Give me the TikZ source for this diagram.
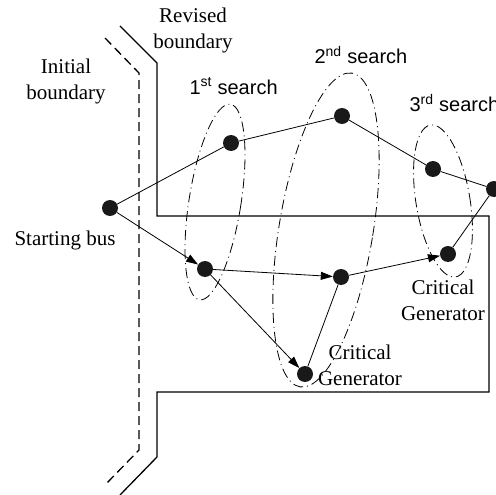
\documentclass[tikz,border=0pt]{standalone}
\usepackage{fontspec}
\setmainfont{Liberation Serif}
\setsansfont{Liberation Sans}
\usetikzlibrary{arrows.meta}

\tikzset{
  bus/.style={circle, fill=black!90, inner sep=0pt, minimum size=16pt},
  link/.style={line width=0.8pt},
  flow/.style={link, -{Triangle[length=12pt,width=8pt]}},
  searcharea/.style={line width=0.8pt, dash pattern=on 10pt off 4pt on 1pt off 4pt},
  lbl/.style={font=\fontsize{21}{26}\selectfont, align=center},
  tag/.style={font=\sffamily\fontsize{20}{24}\selectfont, anchor=west},
}

\begin{document}
\begin{tikzpicture}[x=1pt,y=-1pt]
    \useasboundingbox (0,0) rectangle (496,495);
    \draw[line width=1.3pt, dash pattern=on 9pt off 5pt] (105,38) -- (139,73) -- (139,450) -- (105,485); % initial boundary
    \draw[line width=1.3pt] (120,26) -- (157,63) -- (157,216) -- (489,216) -- (489,392) -- (157,392) -- (157,457) -- (120,495); % revised boundary

    % search areas
    \draw[searcharea, rotate around={-9:(215,202)}] (215,202) ellipse [x radius=26, y radius=99];
    \draw[searcharea, rotate around={-9.4:(326,230)}] (326,230) ellipse [x radius=47, y radius=159];
    \draw[searcharea, rotate around={9.4:(443,201)}] (443,201) ellipse [x radius=27, y radius=77];

    % buses
    \node[bus] (bus) at (110,208) {};
    \node[bus] (up1) at (231,143) {};
    \node[bus] (up2) at (342,116) {};
    \node[bus] (up3) at (433,169) {};
    \node[bus] (up4) at (494,189) {};
    \node[bus] (low1) at (205,269) {};
    \node[bus] (mid2) at (341,277) {};
    \node[bus] (gen1) at (305,374) {};
    \node[bus] (gen2) at (448,254) {};

    % paths
    \draw[link] (bus) -- (up1) -- (up2) -- (up3) -- (up4);
    \draw[link] (gen2) -- (up4);
    \draw[link] (mid2) -- (gen1);
    \draw[flow] (bus) -- (low1);
    \draw[flow] (low1) -- (mid2);
    \draw[flow] (low1) -- (gen1);
    \draw[flow] (mid2) -- (gen2);

    % labels
    \node[lbl] (revised) at (193,30) {Revised\\boundary};
    \node[lbl] (initial) at (66,81) {Initial\\boundary};
    \node[lbl] (start) at (65,240) {Starting bus};
    \node[lbl] (crit1) at (360,365) {Critical\\Generator};
    \node[lbl] (crit2) at (443,300) {Critical\\Generator};
    \node[tag] (first) at (186,86) {1\textsuperscript{st} search};
    \node[tag] (second) at (311,55) {2\textsuperscript{nd} search};
    \node[tag] (third) at (406,103) {3\textsuperscript{rd} search};
\end{tikzpicture}
\end{document}
